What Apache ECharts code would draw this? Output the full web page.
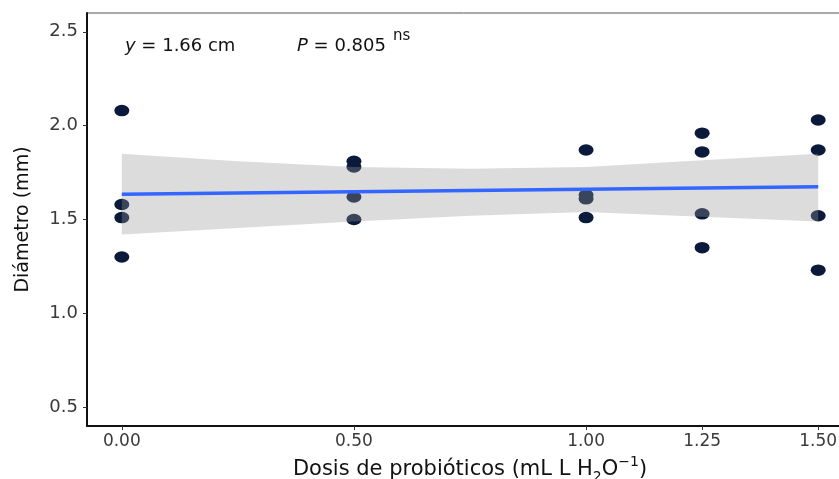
<!DOCTYPE html>
<html>
<head>
<meta charset="utf-8">
<title>Diámetro vs dosis de probióticos</title>
<script src="https://cdn.jsdelivr.net/npm/echarts@6/dist/echarts.min.js"></script>
<style>
    html, body { margin: 0; padding: 0; background: #fff; }
    #chart { width: 839px; height: 479px; }
</style>
</head>
<body>
<div id="chart"></div>
<script>
// observations: dose (mL L H2O^-1) and diameter (mm)
const doseX = [0, 0, 0, 0, 0.5, 0.5, 0.5, 0.5, 1.0, 1.0, 1.0, 1.0, 1.25, 1.25, 1.25, 1.25, 1.5, 1.5, 1.5, 1.5];
const diamY = [2.08, 1.58, 1.51, 1.30, 1.81, 1.78, 1.62, 1.50, 1.87, 1.63, 1.61, 1.51, 1.96, 1.86, 1.53, 1.35, 2.03, 1.87, 1.52, 1.23];

// fitted line and its confidence band
const fitX = [0, 1.5];
const fitY = [1.635, 1.675];
const bandX = [0, 0.25, 0.5, 0.75, 1.0, 1.25, 1.5];
const bandLow = [1.42, 1.455, 1.49, 1.52, 1.54, 1.515, 1.49];
const bandHigh = [1.85, 1.81, 1.78, 1.77, 1.78, 1.815, 1.85];

// axis ticks
const xTicks = [0, 0.5, 1.0, 1.25, 1.5];
const yTicks = [0.5, 1.0, 1.5, 2.0, 2.5];

const font = 'DejaVu Sans';
const chart = echarts.init(document.getElementById('chart'), null, {renderer: 'canvas'});

const option = {
    backgroundColor: '#fff',
    animation: false,
    grid: {
        left: 87,
        width: 766,
        top: 13,
        bottom: 53,
        containLabel: false,
        outerBoundsMode: 'none',
        show: true,
        borderColor: '#555',
        borderWidth: 1,
    },
    xAxis: {
        type: 'value',
        min: -0.075,
        max: 1.575,
        name: 'Dosis de probióticos (mL L H{sub|2}O{sup|−1})',
        nameLocation: 'middle',
        nameGap: 21,
        nameTextStyle: {
            fontFamily: font,
            fontSize: 21,
            color: '#111',
            rich: {
                sub: {fontFamily: font, fontSize: 14, color: '#111', verticalAlign: 'bottom', lineHeight: 29},
                sup: {fontFamily: font, fontSize: 14, color: '#111', verticalAlign: 'top', lineHeight: 29},
            },
        },
        splitLine: {show: false},
        axisLine: {onZero: false, lineStyle: {color: '#111', width: 2}},
        axisTick: {customValues: xTicks, length: 4, lineStyle: {color: '#333'}},
        axisLabel: {
            customValues: xTicks,
            formatter: (v) => v.toFixed(2),
            fontFamily: font,
            fontSize: 17,
            color: '#3a3a3a',
            margin: 7,
        },
    },
    yAxis: {
        type: 'value',
        min: 0.4,
        max: 2.6,
        name: 'Diámetro (mm)',
        nameLocation: 'middle',
        nameGap: 54,
        nameTextStyle: {fontFamily: font, fontSize: 19, color: '#111'},
        splitLine: {show: false},
        axisLine: {onZero: false, lineStyle: {color: '#111', width: 2}},
        axisTick: {customValues: yTicks, length: 4, lineStyle: {color: '#333'}},
        axisLabel: {
            customValues: yTicks,
            formatter: (v) => v.toFixed(1),
            fontFamily: font,
            fontSize: 18,
            color: '#3a3a3a',
            margin: 9,
        },
    },
    graphic: [
        {
            type: 'text',
            left: 125,
            top: 37,
            style: {
                text: '{i|y} = 1.66 cm',
                font: '18px "DejaVu Sans"',
                fill: '#111',
                rich: {i: {fontFamily: font, fontSize: 18, fontStyle: 'italic', fill: '#111'}},
            },
        },
        {
            type: 'text',
            left: 297,
            top: 37,
            style: {
                text: '{i|P} = 0.805',
                font: '18px "DejaVu Sans"',
                fill: '#111',
                rich: {i: {fontFamily: font, fontSize: 18, fontStyle: 'italic', fill: '#111'}},
            },
        },
        {
            type: 'text',
            left: 393,
            top: 29,
            style: {text: 'ns', font: '15px "DejaVu Sans"', fill: '#111'},
        },
    ],
    series: [
        {
            type: 'scatter',
            z: 2,
            symbol: 'path://M0,5a5,5 0 1,0 10,0a5,5 0 1,0 -10,0',
            symbolSize: [15, 11.5],
            itemStyle: {color: '#0b1a3b', opacity: 1},
            data: doseX.map((x, i) => [x, diamY[i]]),
        },
        {
            type: 'custom',
            z: 3,
            silent: true,
            renderItem: (params, api) => {
                const upper = bandX.map((x, i) => api.coord([x, bandHigh[i]]));
                const lower = bandX.map((x, i) => api.coord([x, bandLow[i]])).reverse();
                return {
                    type: 'polygon',
                    shape: {points: upper.concat(lower)},
                    style: {fill: 'rgba(153,153,153,0.34)', stroke: null},
                };
            },
            data: [0],
        },
        {
            type: 'line',
            z: 4,
            symbol: 'none',
            lineStyle: {color: '#3366FF', width: 3.5},
            data: fitX.map((x, i) => [x, fitY[i]]),
        },
    ],
};

chart.setOption(option);
</script>
</body>
</html>
